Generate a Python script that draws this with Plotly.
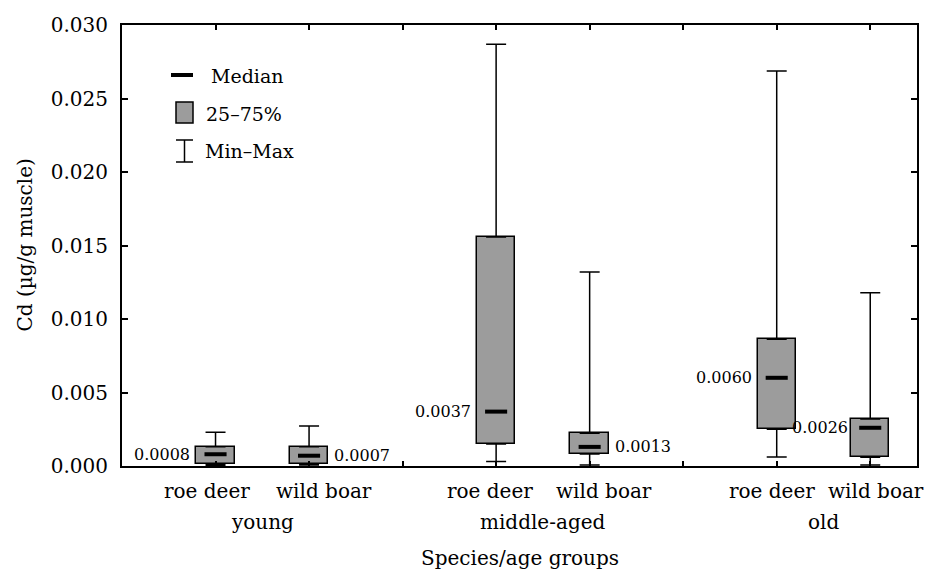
import plotly.graph_objects as go

# ---------------- data ----------------
species = ["roe deer", "wild boar", "roe deer", "wild boar", "roe deer", "wild boar"]
age_groups = ["young", "middle-aged", "old"]
group_index = [0, 0, 1, 1, 2, 2]
species_index = [0, 1, 0, 1, 0, 1]

mins = [0.00003, 0.00007, 0.00030, 0.00007, 0.00061, 0.00007]
q1s = [0.00014, 0.00014, 0.00150, 0.00082, 0.00250, 0.00059]
medians = [0.0008, 0.0007, 0.0037, 0.0013, 0.0060, 0.0026]
q3s = [0.00131, 0.00131, 0.01558, 0.00222, 0.00862, 0.00320]
maxs = [0.00229, 0.00272, 0.02869, 0.01320, 0.02687, 0.01179]

y_ticks = [0.000, 0.005, 0.010, 0.015, 0.020, 0.025, 0.030]

# ---------------- styling ----------------
FONT = "DejaVu Serif"
BOX_FILL = "#9c9c9c"
positions = [g * 3 + s + 1 for g, s in zip(group_index, species_index)]
label_side = ["left", "right", "left", "right", "left", "left"]
label_gap = [4, 4, 4, 4, 4, 1]
species_xshift = [-9, 15, -6, 14, -5, 6]

W, H = 933, 572
ML, MR, MT, MB = 122, 16, 25, 106
PW, PH = W - ML - MR, H - MT - MB


def px(x):
    return (x - ML) / PW


def py(y):
    return (H - MB - y) / PH


fig = go.Figure()

# boxes (25-75%)
fig.add_trace(go.Bar(
    x=positions,
    y=[b - a for a, b in zip(q1s, q3s)],
    base=q1s,
    width=0.41,
    marker=dict(color=BOX_FILL, line=dict(color="black", width=1.5)),
    showlegend=False, hoverinfo="skip",
))

# upper whiskers
fig.add_trace(go.Scatter(
    x=positions, y=q3s, mode="markers",
    marker=dict(size=1, opacity=0),
    error_y=dict(type="data", symmetric=False,
                 array=[m - q for m, q in zip(maxs, q3s)],
                 arrayminus=[0] * len(q3s),
                 color="black", thickness=1.5, width=10),
    showlegend=False, hoverinfo="skip",
))
# lower whiskers
fig.add_trace(go.Scatter(
    x=positions, y=q1s, mode="markers",
    marker=dict(size=1, opacity=0),
    error_y=dict(type="data", symmetric=False,
                 array=[0] * len(q1s),
                 arrayminus=[q - m for q, m in zip(q1s, mins)],
                 color="black", thickness=1.5, width=10),
    showlegend=False, hoverinfo="skip", cliponaxis=False,
))

# medians
mx, my = [], []
half = 0.118
for p, m in zip(positions, medians):
    mx += [p - half, p + half, None]
    my += [m, m, None]
fig.add_trace(go.Scatter(
    x=mx, y=my, mode="lines",
    line=dict(color="black", width=4),
    showlegend=False, hoverinfo="skip",
))

annotations = []
# median labels
for p, m, side, gap in zip(positions, medians, label_side, label_gap):
    if side == "left":
        annotations.append(dict(x=p - 0.205, y=m, xref="x", yref="y",
                                text=f"{m:.4f}", showarrow=False,
                                xanchor="right", yanchor="middle", xshift=-gap,
                                font=dict(family=FONT, size=16, color="black")))
    else:
        annotations.append(dict(x=p + 0.205, y=m, xref="x", yref="y",
                                text=f"{m:.4f}", showarrow=False,
                                xanchor="left", yanchor="middle", xshift=gap,
                                font=dict(family=FONT, size=16, color="black")))

# category labels
for p, s, xs in zip(positions, species, species_xshift):
    annotations.append(dict(x=p, y=0, xref="x", yref="paper", text=s,
                            showarrow=False, xanchor="center", yanchor="middle",
                            yshift=-25, xshift=xs,
                            font=dict(family=FONT, size=20, color="black")))
for g, age in enumerate(age_groups):
    ps = [p for p, gi in zip(positions, group_index) if gi == g]
    annotations.append(dict(x=sum(ps) / len(ps), y=0, xref="x", yref="paper",
                            text=age, showarrow=False, xanchor="center",
                            yanchor="middle", yshift=-56,
                            font=dict(family=FONT, size=20, color="black")))

# axis titles
annotations.append(dict(x=0.5, y=0, xref="paper", yref="paper",
                        text="Species/age groups", showarrow=False,
                        xanchor="center", yanchor="middle", yshift=-92,
                        font=dict(family=FONT, size=20, color="black")))
annotations.append(dict(x=0, y=0.5, xref="paper", yref="paper",
                        text="Cd (µg/g muscle)", showarrow=False, textangle=-90,
                        xanchor="center", yanchor="middle", xshift=-98,
                        font=dict(family=FONT, size=20, color="black")))

# legend texts
for t, x, y in [("Median", 209, 76), ("25–75%", 204, 114), ("Min–Max", 203, 151)]:
    annotations.append(dict(x=px(x), y=py(y), xref="paper", yref="paper",
                            text=t, showarrow=False, xanchor="left",
                            yanchor="middle",
                            font=dict(family=FONT, size=19, color="black")))

shapes = [
    dict(type="line", xref="paper", yref="paper", x0=px(171), x1=px(193),
         y0=py(75), y1=py(75), line=dict(color="black", width=4)),
    dict(type="rect", xref="paper", yref="paper", x0=px(176), x1=px(193),
         y0=py(123), y1=py(102), fillcolor=BOX_FILL,
         line=dict(color="black", width=1.5)),
    dict(type="line", xref="paper", yref="paper", x0=px(184.5), x1=px(184.5),
         y0=py(140), y1=py(162), line=dict(color="black", width=1.5)),
    dict(type="line", xref="paper", yref="paper", x0=px(176), x1=px(193),
         y0=py(140), y1=py(140), line=dict(color="black", width=1.5)),
    dict(type="line", xref="paper", yref="paper", x0=px(176), x1=px(193),
         y0=py(162), y1=py(162), line=dict(color="black", width=1.5)),
]

fig.update_layout(
    width=W, height=H,
    margin=dict(l=ML, r=MR, t=MT, b=MB, pad=0),
    paper_bgcolor="white", plot_bgcolor="white",
    font=dict(family=FONT, size=19, color="black"),
    annotations=annotations, shapes=shapes,
    bargap=0,
)
fig.update_xaxes(
    range=[0, 8.5], tickvals=positions + [3, 6],
    ticktext=[""] * (len(positions) + 2),
    ticks="inside", ticklen=5, tickwidth=1.5, tickcolor="black",
    showline=True, linewidth=2, linecolor="black", mirror="ticks",
    showgrid=False, zeroline=False,
)
fig.update_yaxes(
    range=[0, 0.030], tickvals=y_ticks, tickformat=".3f",
    ticks="inside", ticklen=6, tickwidth=1.5, tickcolor="black",
    showline=True, linewidth=2, linecolor="black", mirror="ticks",
    showgrid=False, zeroline=False, ticklabelstandoff=8,
    tickfont=dict(family=FONT, size=20, color="black"),
)

fig.write_html("out.html")
